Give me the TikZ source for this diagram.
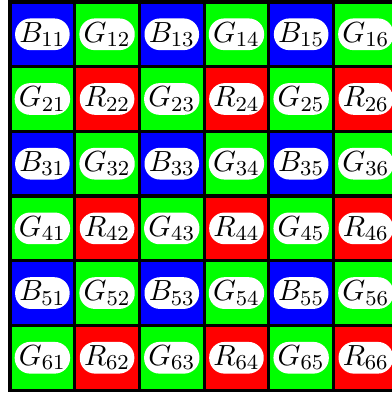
\documentclass[tikz,border=0pt]{standalone}
\tikzset{
  pill/.style={fill=white,rounded corners=5.8pt,inner xsep=1.6pt,inner ysep=1.4pt,font=\fontsize{11}{13}\selectfont},
  cellB/.style={fill=blue},
  cellG/.style={fill=green},
  cellR/.style={fill=red}
}
\begin{document}
\begin{tikzpicture}[x=.855cm,y=.855cm,line width=1.2pt]
  \useasboundingbox (-.155,-.06) rectangle (5.9,6.03);
  \foreach \r in {1,...,6}{
    \foreach \c in {1,...,6}{
      \pgfmathtruncatemacro{\ro}{mod(\r,2)}
      \pgfmathtruncatemacro{\co}{mod(\c,2)}
      \ifnum\ro=1
        \ifnum\co=1 \def\ch{B}\else \def\ch{G}\fi
      \else
        \ifnum\co=1 \def\ch{G}\else \def\ch{R}\fi
      \fi
      \draw[cell\ch] (\c-1,6-\r) rectangle (\c,7-\r);
      \node[pill] (c\r\c) at (\c-.5,6.5-\r) {$\ch_{\r\c}$};
    }
  }
\end{tikzpicture}
\end{document}
